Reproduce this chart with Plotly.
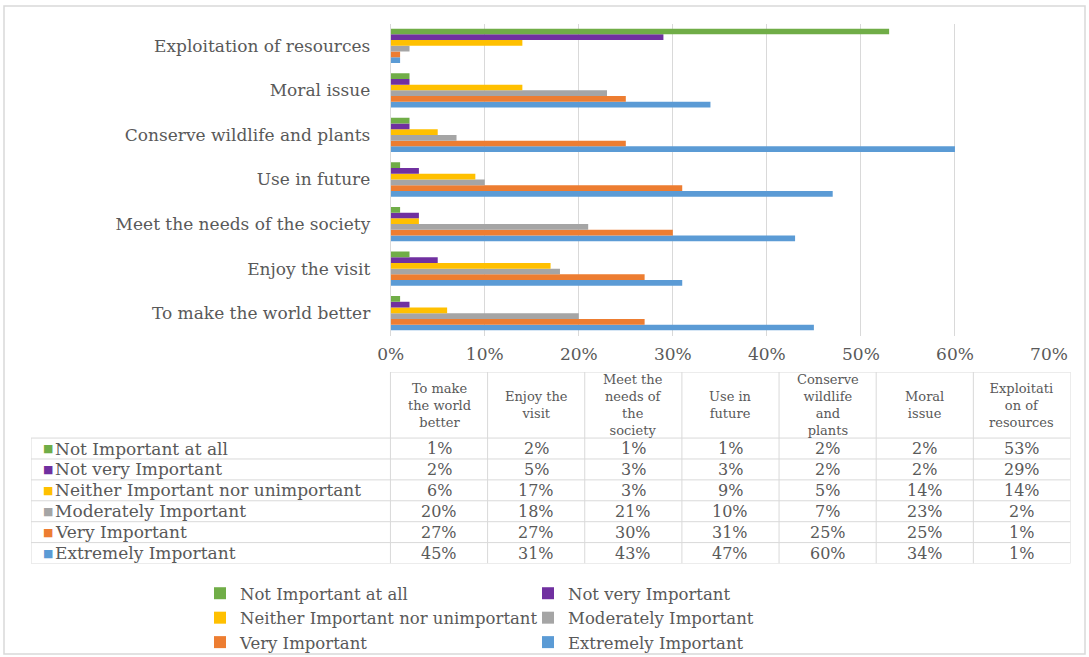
import plotly.graph_objects as go

# ---------------- data ----------------
categories = ["To make the world better", "Enjoy the visit", "Meet the needs of the society",
              "Use in future", "Conserve wildlife and plants", "Moral issue",
              "Exploitation of resources"]
header_labels = ["To make<br>the world<br>better", "Enjoy the<br>visit",
                 "Meet the<br>needs of<br>the<br>society", "Use in<br>future",
                 "Conserve<br>wildlife<br>and<br>plants", "Moral<br>issue",
                 "Exploitati<br>on of<br>resources"]
series_names = ["Not Important at all", "Not very Important",
                "Neither Important nor unimportant", "Moderately Important",
                "Very Important", "Extremely Important"]
not_important_at_all = [1, 2, 1, 1, 2, 2, 53]
not_very_important = [2, 5, 3, 3, 2, 2, 29]
neither_important = [6, 17, 3, 9, 5, 14, 14]
moderately_important = [20, 18, 21, 10, 7, 23, 2]
very_important = [27, 27, 30, 31, 25, 25, 1]
extremely_important = [45, 31, 43, 47, 60, 34, 1]
series_values = [not_important_at_all, not_very_important, neither_important,
                 moderately_important, very_important, extremely_important]
tick_values = [0, 10, 20, 30, 40, 50, 60, 70]
tick_labels = [f"{v}%" for v in tick_values]

# ---------------- styles ----------------
colors = ["#70AD47", "#7030A0", "#FFC000", "#A5A5A5", "#ED7D31", "#5B9BD5"]
legend_ids = ["legend", "legend2", "legend", "legend2", "legend", "legend2"]
FONT = "DejaVu Serif"
TXT = "#595959"
GRID = "#d9d9d9"
W, H = 1089, 657

# table geometry in table-axis units (1 unit = one data column / one data row)
LABEL_COL = 3.7
HEADER_ROWS = 3.16

fig = go.Figure()

# bars: the first trace is drawn at the bottom of each group, so add in reverse
for i in reversed(range(len(series_names))):
    fig.add_trace(go.Bar(
        y=categories, x=series_values[i], orientation="h",
        name=series_names[i], marker=dict(color=colors[i], line=dict(width=0)),
        legend=legend_ids[i], legendrank=i + 1,
        xaxis="x", yaxis="y", hoverinfo="x+name"))

# ---------------- data table on its own hidden axes ----------------
ncol = len(categories)
nrow = len(series_names)
shapes = []
line_style = dict(color=GRID, width=1)
shapes.append(dict(type="line", xref="x2", yref="y2", x0=-LABEL_COL, x1=-LABEL_COL,
                   y0=0, y1=nrow, line=line_style))
for j in range(ncol + 1):
    shapes.append(dict(type="line", xref="x2", yref="y2", x0=j, x1=j,
                       y0=-HEADER_ROWS, y1=nrow, line=line_style))
shapes.append(dict(type="line", xref="x2", yref="y2", x0=0, x1=ncol,
                   y0=-HEADER_ROWS, y1=-HEADER_ROWS, line=line_style))
for r in range(nrow + 1):
    shapes.append(dict(type="line", xref="x2", yref="y2", x0=-LABEL_COL, x1=ncol,
                       y0=r, y1=r, line=line_style))

annotations = []
for j, lab in enumerate(header_labels):
    annotations.append(dict(xref="x2", yref="y2", x=j + 0.5, y=-HEADER_ROWS / 2,
                            text=lab, showarrow=False, align="center",
                            xanchor="center", yanchor="middle",
                            font=dict(family=FONT, size=13, color=TXT)))
for r, name in enumerate(series_names):
    annotations.append(dict(xref="x2", yref="y2", x=-LABEL_COL, y=r + 0.5,
                            text="■", showarrow=False, xanchor="left", yanchor="middle",
                            xshift=10, font=dict(family="DejaVu Sans", size=11, color=colors[r])))
    annotations.append(dict(xref="x2", yref="y2", x=-LABEL_COL, y=r + 0.5,
                            text=name, showarrow=False, xanchor="left", yanchor="middle",
                            xshift=22, font=dict(family=FONT, size=17, color=TXT)))
    for j in range(ncol):
        annotations.append(dict(xref="x2", yref="y2", x=j + 0.5, y=r + 0.5,
                                text=f"{series_values[r][j]}%", showarrow=False,
                                xanchor="center", yanchor="middle",
                                font=dict(family=FONT, size=16, color=TXT)))

# outer frame
shapes.append(dict(type="rect", xref="paper", yref="paper",
                   x0=4 / W, x1=1085 / W, y0=1 - 654 / H, y1=1 - 6 / H,
                   line=dict(color=GRID, width=1.5), fillcolor="rgba(0,0,0,0)"))

fig.update_layout(
    width=W, height=H, autosize=False,
    margin=dict(l=0, r=0, t=0, b=0, autoexpand=False),
    paper_bgcolor="white", plot_bgcolor="white",
    barmode="group", bargap=0.23, bargroupgap=0,
    font=dict(family=FONT, size=15, color=TXT),
    xaxis=dict(domain=[390.7 / W, 1049 / W], range=[0, 70], tickmode="array",
               tickvals=tick_values, ticktext=tick_labels,
               showgrid=True, gridcolor=GRID, zeroline=False,
               showline=False, ticks="", anchor="y", fixedrange=True,
               automargin=False, ticklabelstandoff=6,
               tickfont=dict(family=FONT, size=17, color=TXT)),
    yaxis=dict(domain=[1 - 335.5 / H, 1 - 23.5 / H], categoryorder="array",
               categoryarray=categories, showline=True, linecolor=GRID,
               showgrid=False, ticks="", ticklabelstandoff=16, anchor="x",
               fixedrange=True, automargin=False,
               tickfont=dict(family=FONT, size=17, color=TXT)),
    xaxis2=dict(domain=[31 / W, 1070.5 / W], range=[-LABEL_COL, ncol], visible=False,
                anchor="y2", fixedrange=True, automargin=False),
    yaxis2=dict(domain=[1 - 563.5 / H, 1 - 372 / H], range=[nrow, -HEADER_ROWS],
                visible=False, anchor="x2", fixedrange=True, automargin=False),
    legend=dict(x=200 / W, y=1 - 576 / H, xanchor="left", yanchor="top",
                orientation="v", bgcolor="rgba(0,0,0,0)",
                font=dict(family=FONT, size=16.5, color=TXT)),
    legend2=dict(x=528 / W, y=1 - 576 / H, xanchor="left", yanchor="top",
                 orientation="v", bgcolor="rgba(0,0,0,0)",
                 font=dict(family=FONT, size=16.5, color=TXT)),
    shapes=shapes,
    annotations=annotations,
    showlegend=True,
)

fig.write_html("out.html", config={"staticPlot": True, "displayModeBar": False},
               post_script=("document.documentElement.style.margin='0';"
                            "document.body.style.margin='0';"))
